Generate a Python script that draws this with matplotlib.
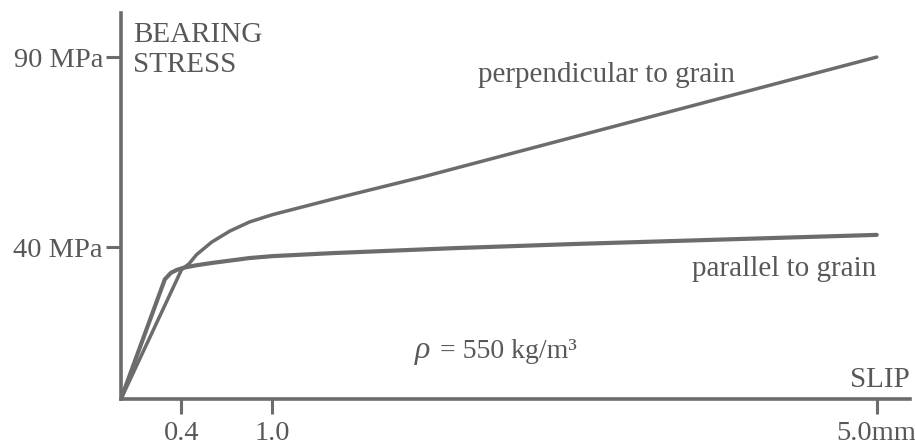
import matplotlib
matplotlib.use("Agg")
import matplotlib.pyplot as plt

# Data (slip in mm, bearing stress in MPa)
perp_slip = [0.0, 0.40, 0.45, 0.50, 0.60, 0.72, 0.85, 1.0, 1.4, 2.0, 3.0, 4.0, 5.0]
perp_stress = [0.0, 34.0, 35.6, 38.0, 41.3, 44.2, 46.6, 48.5, 52.6, 58.5, 69.0, 79.5, 90.0]

par_slip = [0.0, 0.29, 0.33, 0.37, 0.42, 0.50, 0.60, 0.85, 1.0, 1.4, 2.2, 3.0, 4.0, 5.0]
par_stress = [0.0, 31.5, 33.2, 34.0, 34.6, 35.2, 35.8, 37.1, 37.6, 38.4, 39.7, 40.8, 42.0, 43.2]

x_ticks = [0.4, 1.0, 5.0]
x_labels = ["0.4", "1.0", "5.0mm"]
y_ticks = [40, 90]
y_labels = ["40 MPa", "90 MPa"]

W, H = 915, 445
SERIF = ["Liberation Serif", "DejaVu Serif"]
plt.rcParams["font.family"] = SERIF

fig = plt.figure(figsize=(W / 100, H / 100), dpi=100)
ax = fig.add_axes([121 / W, (H - 399) / H, (910 - 121) / W, (399 - 13) / H])

gray = "#6c6c6c"
txt = "#585858"

ax.plot(perp_slip, perp_stress, color=gray, lw=2.5, solid_capstyle="round", solid_joinstyle="round")
ax.plot(par_slip, par_stress, color=gray, lw=3.0, solid_capstyle="round", solid_joinstyle="round")

ax.set_xlim(0, 5.22)
ax.set_ylim(0, 101.6)
for s in ["top", "right"]:
    ax.spines[s].set_visible(False)
for s in ["left", "bottom"]:
    ax.spines[s].set_color(gray)
    ax.spines[s].set_linewidth(2.6)

FS = 20.5
ax.set_xticks(x_ticks)
ax.set_xticklabels(x_labels, family=SERIF, fontsize=FS, color=txt)
ax.set_yticks(y_ticks)
ax.set_yticklabels(y_labels, family=SERIF, fontsize=FS, color=txt)
ax.tick_params(axis="both", direction="out", length=11, width=2.2, color=gray)
ax.tick_params(axis="x", pad=5)
ax.tick_params(axis="y", pad=2)

ax.text(0.079, 93.9, "BEARING", ha="left", va="baseline", fontsize=21, color=txt, family=SERIF)
ax.text(0.079, 86.2, "STRESS", ha="left", va="baseline", fontsize=21, color=txt, family=SERIF)
ax.text(1.0, 3.2 / 101.6, "SLIP", transform=ax.transAxes, ha="right", va="baseline",
        fontsize=21, color=txt, family=SERIF)
ax.text(2.364, 83.4, "perpendicular to grain", ha="left", va="baseline",
        fontsize=21, color=txt, family=SERIF)
ax.text(3.78, 32.4, "parallel to grain", ha="left", va="baseline",
        fontsize=21, color=txt, family=SERIF)
ax.text(1.947, 10.8, "ρ", ha="left", va="baseline", fontsize=23, color=txt,
        style="italic", family=SERIF)
ax.text(2.113, 10.8, "= 550 kg/m³", ha="left", va="baseline",
        fontsize=20, color=txt, family=SERIF)

fig.savefig("out.png", dpi=100, facecolor="white")
